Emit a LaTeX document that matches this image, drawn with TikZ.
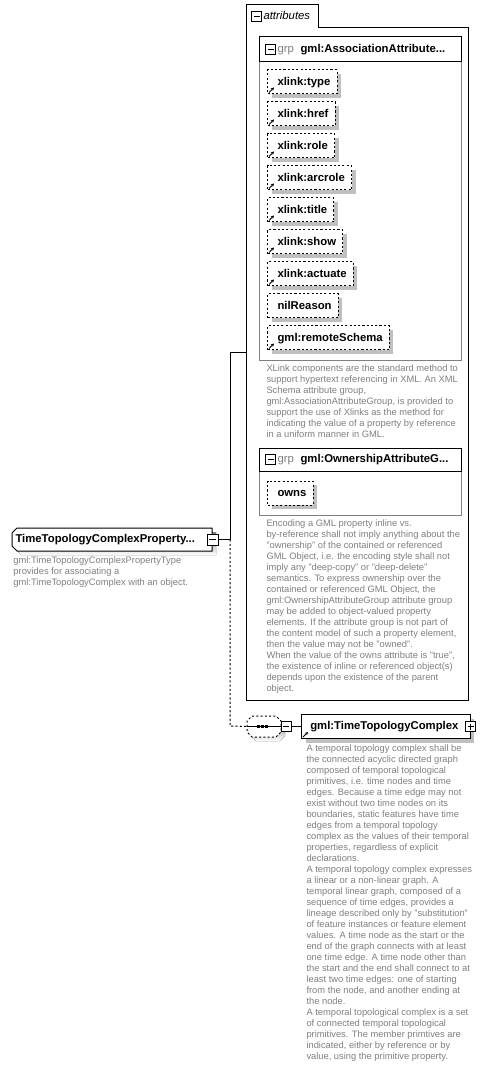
\documentclass[tikz,border=0pt]{standalone}
\usepackage{fontspec}
\setmainfont{Liberation Sans}
\usetikzlibrary{calc,shadows,arrows.meta}
\definecolor{annot}{RGB}{128,128,128}
\definecolor{shade}{RGB}{192,192,192}
\definecolor{grpline}{RGB}{128,128,128}
\tikzset{
  lbl/.style={font=\fontsize{8.5}{10}\selectfont\bfseries},
  boxshadow/.style={drop shadow={shadow xshift=3pt, shadow yshift=-3pt, fill=shade, opacity=1}},
  attrbox/.style={draw, dash pattern=on 1.6pt off 1.6pt, fill=white, anchor=west, minimum height=18pt,
     inner xsep=0pt, inner ysep=0pt, text height=6.5pt, text depth=1.8pt, lbl, boxshadow},
  annot/.style={anchor=north west, inner sep=0pt, align=left, text=annot, font=\fontsize{7}{8.25}\selectfont},
  iconbox/.style={draw, fill=white, minimum size=7.5pt, inner sep=0pt},
  minusicon/.style={iconbox, path picture={\draw ([xshift=1.5pt]path picture bounding box.west) -- ([xshift=-1.5pt]path picture bounding box.east);}},
  plusicon/.style={iconbox, path picture={\draw ([xshift=1.5pt]path picture bounding box.west) -- ([xshift=-1.5pt]path picture bounding box.east);
      \draw ([yshift=-1.5pt]path picture bounding box.north) -- ([yshift=1.5pt]path picture bounding box.south);}},
  refarrow/.style={-{Stealth[length=2.4pt,width=2.4pt]}, line width=0.7pt},
  grptxt/.style={anchor=base west, inner sep=0pt, text=annot, font=\fontsize{8.5}{10}\selectfont},
}
\newcommand{\attrlabel}[1]{\kern7.5pt#1\kern5pt}
\begin{document}
\begin{tikzpicture}[x=0.75pt,y=-0.75pt,line width=0.75pt]
\useasboundingbox (0,0) rectangle (486,1069);
\fill[white] (0,0) rectangle (486,1069);

% ---------- attributes container ----------
\draw (246,700) -- (246,5) -- (318,5) -- (318,28) -- (468,28) -- (468,700) -- cycle;
\node[minusicon] (tabm) at (256.5,16.5) {};
\node[anchor=base west, inner sep=0pt, font=\fontsize{8.5}{10}\selectfont\itshape] (tabt) at (263,19.5) {attributes};

% ---------- group 1 ----------
\draw[grpline] (259,37) rectangle (461,360);
\draw (259,37) rectangle (461,62);
\node[minusicon] (g1m) at (270.5,49.5) {};
\node[grptxt] (g1k) at (277,52.5) {grp};
\node[anchor=base west, inner sep=0pt, lbl] (g1t) at (300,52.5) {gml:AssociationAttribute...};

\node[attrbox] (a1) at (267,82)  {\attrlabel{xlink:type}};
\node[attrbox] (a2) at (267,114) {\attrlabel{xlink:href}};
\node[attrbox] (a3) at (267,146) {\attrlabel{xlink:role}};
\node[attrbox] (a4) at (267,178) {\attrlabel{xlink:arcrole}};
\node[attrbox] (a5) at (267,210) {\attrlabel{xlink:title}};
\node[attrbox] (a6) at (267,242) {\attrlabel{xlink:show}};
\node[attrbox] (a7) at (267,274) {\attrlabel{xlink:actuate}};
\node[attrbox] (a8) at (267,306) {\attrlabel{nilReason}};
\node[attrbox] (a9) at (267,338) {\attrlabel{gml:remoteSchema}};
\foreach \n in {a1,a2,a3,a4,a5,a6,a7,a9}
  \draw[refarrow] ($(\n.south west)+(2,-2)$) -- ++(5,-5);

\node[annot] (d1) at (266,364) {XLink components are the standard method to\\support hypertext referencing in XML. An XML\\Schema attribute group,\\gml:AssociationAttributeGroup, is provided to\\support the use of Xlinks as the method for\\indicating the value of a property by reference\\in a uniform manner in GML.};

% ---------- group 2 ----------
\draw[grpline] (259,448) rectangle (461,515);
\draw (259,448) rectangle (461,471);
\node[minusicon] (g2m) at (270.5,459.5) {};
\node[grptxt] (g2k) at (277,462.5) {grp};
\node[anchor=base west, inner sep=0pt, lbl] (g2t) at (300,462.5) {gml:OwnershipAttributeG...};
\node[attrbox] (o1) at (267,493) {\attrlabel{owns}};

\node[annot] (d2) at (266,519) {Encoding a GML property inline vs.\\by-reference shall not imply anything about the\\"ownership" of the contained or referenced\\GML Object, i.e. the encoding style shall not\\imply any "deep-copy" or "deep-delete"\\semantics. To express ownership over the\\contained or referenced GML Object, the\\gml:OwnershipAttributeGroup attribute group\\may be added to object-valued property\\elements. If the attribute group is not part of\\the content model of such a property element,\\then the value may not be "owned".\\When the value of the owns attribute is "true",\\the existence of inline or referenced object(s)\\depends upon the existence of the parent\\object.};

% ---------- root element ----------
\fill[shade] (21,532) -- (216,532) -- (216,555) -- (21,555) -- (16,550) -- (16,537) -- cycle;
\draw[fill=white] (17,528) -- (212,528) -- (212,551) -- (17,551) -- (12,546) -- (12,533) -- cycle;
\node[anchor=base west, inner sep=0pt, lbl] (root) at (15,542.5) {TimeTopologyComplexProperty...};
\node[minusicon, minimum size=8.25pt] (rootm) at (212.5,539.5) {};
\node[annot] (d0) at (13,556) {gml:TimeTopologyComplexPropertyType\\provides for associating a\\gml:TimeTopologyComplex with an object.};

% ---------- connectors ----------
\coordinate (j1) at (230,539.5);
\coordinate (j2) at (230,353);
\coordinate (attrL) at (246,353);
\coordinate (j3) at (230,726);
\draw (rootm.east) -- (j1);
\draw (j1) -- (j2) -- (attrL);

% ---------- sequence ----------
\fill[shade] (256,720) -- (280,720) -- (285,725) -- (285,736) -- (280,741) -- (256,741) -- (251,736) -- (251,725) -- cycle;
\draw[fill=white, dash pattern=on 1.6pt off 1.6pt] (252,716) -- (276,716) -- (281,721) -- (281,732) -- (276,737) -- (252,737) -- (247,732) -- (247,721) -- cycle;
\coordinate (seqL) at (247,726.5);
\draw[dash pattern=on 1.6pt off 1.6pt] (j1) -- (j3) -- (seqL);
\node[inner sep=0pt, minimum width=25.5pt, minimum height=10pt] (seq) at (264,726.5) {};
\draw (seq.west) -- (seq.east);
\foreach \xx in {258.5,262.5,266.5}
  \fill (\xx-1.4,725.1) rectangle (\xx+1.4,727.9);
\node[minusicon] (seqm) at (286,726.5) {};

% ---------- child element ----------
\node[draw, fill=white, boxshadow, anchor=north west, minimum height=18pt, inner xsep=6.6pt, inner ysep=0pt,
      text width=113.5pt, align=left, text height=6.5pt, text depth=1.8pt, lbl] (child) at (301,714) {gml:TimeTopologyComplex};
\draw (seqm.east) -- (child.west);
\draw[refarrow] ($(child.south west)+(2,-2)$) -- ++(5,-5);
\node[plusicon] (childp) at (child.east) {};

\node[annot] (d3) at (306,744) {A temporal topology complex shall be\\the connected acyclic directed graph\\composed of temporal topological\\primitives, i.e. time nodes and time\\edges. Because a time edge may not\\exist without two time nodes on its\\boundaries, static features have time\\edges from a temporal topology\\complex as the values of their temporal\\properties, regardless of explicit\\declarations.\\A temporal topology complex expresses\\a linear or a non-linear graph. A\\temporal linear graph, composed of a\\sequence of time edges, provides a\\lineage described only by "substitution"\\of feature instances or feature element\\values. A time node as the start or the\\end of the graph connects with at least\\one time edge. A time node other than\\the start and the end shall connect to at\\least two time edges: one of starting\\from the node, and another ending at\\the node.\\A temporal topological complex is a set\\of connected temporal topological\\primitives. The member primtives are\\indicated, either by reference or by\\value, using the primitive property.};
\end{tikzpicture}
\end{document}
